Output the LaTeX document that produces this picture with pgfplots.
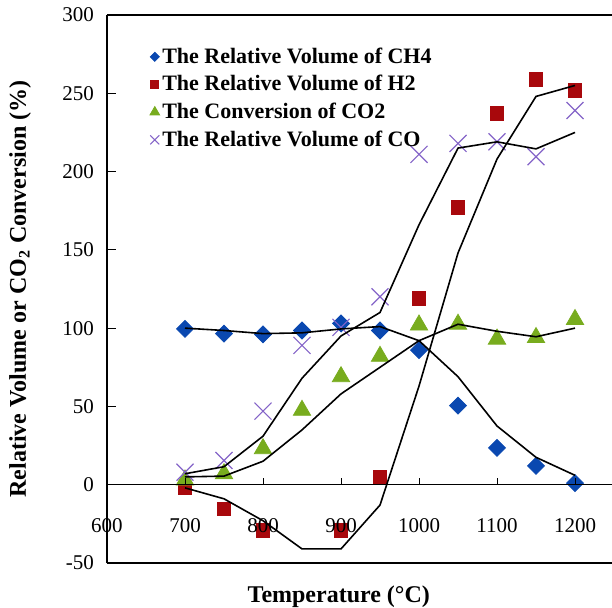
\documentclass[border=0pt]{standalone}
\usepackage{fontspec}
\setmainfont{Liberation Serif}
\usepackage{pgfplots}
\pgfplotsset{compat=1.18}

\definecolor{ch4blue}{RGB}{10,72,176}
\definecolor{h2red}{RGB}{168,8,12}
\definecolor{co2green}{RGB}{120,172,30}
\definecolor{copurple}{RGB}{132,100,200}

\begin{document}
\begin{tikzpicture}
\useasboundingbox (-53.5pt,-22pt) rectangle (252.5pt,281.5pt);
\begin{axis}[
    at={(0,0)}, anchor=south west,
    scale only axis, width=252.5pt, height=274pt,
    xmin=600, xmax=1247.4, ymin=-50, ymax=300,
    axis line style={draw=none},
    xtick=\empty,
    ytick={-50,0,50,100,150,200,250,300},
    ytick pos=left, ytick align=inside,
    major tick length=4.5pt,
    tick style={black, line width=0.5pt},
    yticklabel style={font=\fontsize{10.5}{12}\selectfont, xshift=-3pt},
    /pgf/number format/assume math mode=true,
    clip mode=individual,
    xlabel={\bfseries Temperature (°C)},
    xlabel style={at={(rel axis cs:0.459,0)}, anchor=base, yshift=-19.5pt,
        font=\fontsize{12}{14}\selectfont},
    ylabel={\bfseries Relative Volume or CO\textsubscript{2} Conversion (\%)},
    ylabel style={at={(rel axis cs:-0.172,0.5)}, anchor=center, rotate=0,
        font=\fontsize{12}{14}\selectfont},
    legend style={at={(rel axis cs:0.083,0.945)}, anchor=north west,
        draw=none, fill=none, inner sep=0pt, row sep=2.6pt,
        font=\bfseries\fontsize{11}{12}\selectfont,
        nodes={inner sep=1pt}},
    legend cell align=left,
    legend image code/.code={\path (0pt,0pt) (5pt,0pt);
        \draw[#1] plot coordinates {(2.5pt,0pt)};},
]
% markers
\addplot[only marks, mark=square*, mark size=3pt, color=ch4blue,
    mark options={rotate=45}, forget plot] coordinates {
    (700,99.5) (750,96.5) (800,96) (850,98.5) (900,103) (950,98.5)
    (1000,86) (1050,50.5) (1100,23.5) (1150,12) (1200,1)
};
\addplot[only marks, mark=square*, mark size=3.4pt, color=h2red, forget plot] coordinates {
    (700,-2) (750,-15.5) (800,-29) (900,-29) (950,4.5)
    (1000,119) (1050,177) (1100,237) (1150,259) (1200,252)
};
\addplot[only marks, mark=triangle*, mark size=5pt, color=co2green, forget plot] coordinates {
    (700,3) (750,7) (800,23) (850,47.5) (900,69) (950,82)
    (1000,102) (1050,102.5) (1100,93) (1150,94) (1200,105.5)
};
\addplot[only marks, mark=x, mark size=6pt, color=copurple, line width=0.6pt, forget plot] coordinates {
    (700,8) (750,15.5) (800,47) (850,89) (900,100.5) (950,120)
    (1000,211) (1050,218) (1100,219) (1150,209.5) (1200,239)
};
% trend lines
\addplot[black, line width=0.8pt, forget plot] coordinates {
    (700,100) (750,98.5) (800,96.5) (850,97) (900,99.5) (950,101)
    (1000,92) (1050,69) (1100,37.5) (1150,17.5) (1200,6)
};
\addplot[black, line width=0.8pt, forget plot] coordinates {
    (700,-2) (750,-9) (800,-23) (850,-41) (900,-41) (950,-13)
    (1000,63) (1050,148) (1100,208) (1150,248) (1200,255)
};
\addplot[black, line width=0.8pt, forget plot] coordinates {
    (700,5) (750,5.5) (800,15) (850,35) (900,58) (950,75)
    (1000,92) (1050,102.5) (1100,98) (1150,94.5) (1200,100)
};
\addplot[black, line width=0.8pt, forget plot] coordinates {
    (700,7) (750,11.5) (800,31) (850,68) (900,95) (950,110)
    (1000,166) (1050,215) (1100,219) (1150,214.5) (1200,225)
};
% legend images
\addlegendimage{only marks, mark=square*, mark size=1.6pt, color=ch4blue, mark options={rotate=45}}
\addlegendentry{The Relative Volume of CH4}
\addlegendimage{only marks, mark=square*, mark size=2pt, color=h2red}
\addlegendentry{The Relative Volume of H2}
\addlegendimage{only marks, mark=triangle*, mark size=2.8pt, color=co2green}
\addlegendentry{The Conversion of CO2}
\addlegendimage{only marks, mark=x, mark size=3.2pt, color=copurple, line width=0.5pt}
\addlegendentry{The Relative Volume of CO}
% frame and zero line
\draw[line width=0.6pt] (rel axis cs:0,0) -- (rel axis cs:0,1);
\draw[line width=0.8pt] (rel axis cs:0,1) -- (rel axis cs:1,1);
\draw[line width=1pt] (rel axis cs:0,0) -- (rel axis cs:1,0);
\draw[line width=0.5pt] (axis cs:600,0) -- (axis cs:1247.4,0);
% x ticks on the zero line and their labels
\pgfplotsinvokeforeach{700,800,900,1000,1100,1200}{
    \draw[line width=0.5pt] (axis cs:#1,0) -- ++(0pt,3.5pt);
}
\pgfplotsinvokeforeach{600,700,800,900,1000,1100,1200}{
    \node[font=\fontsize{10.5}{12}\selectfont] at (axis cs:#1,-26) {#1};
}
\end{axis}
\end{tikzpicture}
\end{document}
